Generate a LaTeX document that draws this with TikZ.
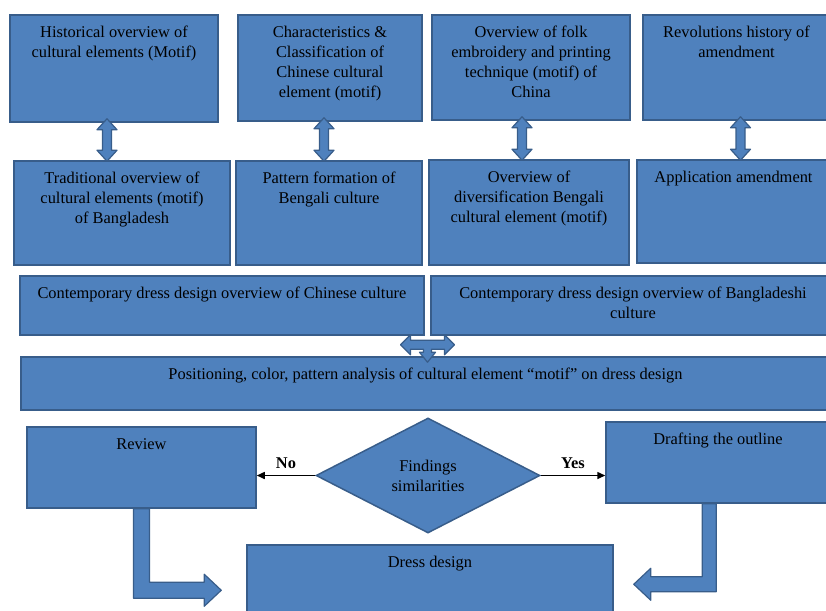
\documentclass[tikz,border=0pt]{standalone}
\usepackage{fontspec}
\setmainfont{Liberation Serif}
\usetikzlibrary{calc}
\usetikzlibrary{shapes.geometric}
\usetikzlibrary{arrows.meta}
\definecolor{boxblue}{HTML}{4F81BD}
\definecolor{boxline}{HTML}{385D8A}
\tikzset{
  flow box/.style = {draw=boxline, fill=boxblue, line width=1.5pt, inner sep=0pt}
}
\tikzset{
  block arrow/.style = {draw=boxline, fill=boxblue, line width=1.2pt, line join=round}
}
\tikzset{
  decision/.style = {diamond, draw=boxline, fill=boxblue, line width=1.5pt,
    minimum width=224pt, minimum height=115pt, inner sep=0pt, align=center}
}
\tikzset{
  branch label/.style = {font = \fontsize{16.4}{20}\selectfont\bfseries}
}
\tikzset{
  every node/.style = {font = \fontsize{16.4}{20}\selectfont}
}
\tikzset{
    >={Triangle[length=8pt,width=7pt]}
}
% box from (x1,y1) to (x2,y2), text at the top
\newcommand{\flowbox}[6]{
  \node[flow box, minimum width={#4-#2}, minimum height={#5-#3}] (#1)
    at ({(#2+#4)/2},{(#3+#5)/2})
    {\parbox[c][\dimexpr#5pt-#3pt\relax][t]{\dimexpr#4pt-#2pt\relax}{\centering\rule{0pt}{22pt}#6}};
}
% thick up-down arrow between two boxes
\newcommand{\dblarrow}[3]{
  \draw[block arrow] let \p1=($(#1.south)+(#3,0)$), \p2=(#2.north) in
    (\x1,\y1+4pt) -- (\x1+10pt,\y1-7pt) -- (\x1+4.5pt,\y1-7pt)
    -- (\x1+4.5pt,\y2+10pt) -- (\x1+10pt,\y2+10pt) -- (\x1,\y2-1pt)
    -- (\x1-10pt,\y2+10pt) -- (\x1-4.5pt,\y2+10pt) -- (\x1-4.5pt,\y1-7pt)
    -- (\x1-10pt,\y1-7pt) -- cycle;
}

\begin{document}
\begin{tikzpicture}[x=1pt, y=-1pt]
  \useasboundingbox (0,0) rectangle (826,610);

  \flowbox{hist}{10}{15}{218}{122}{Historical overview of\\cultural elements (Motif)}
  \flowbox{chars}{238}{15}{422}{121}{Characteristics \&\\Classification of\\Chinese cultural\\element (motif)}
  \flowbox{folk}{432}{15}{630}{120}{Overview of folk\\embroidery and printing\\technique (motif) of\\China}
  \flowbox{revol}{643}{15}{830}{120}{Revolutions history of\\amendment}

  \flowbox{trad}{14}{161}{230}{265}{Traditional overview of\\cultural elements (motif)\\of Bangladesh}
  \flowbox{pattern}{236}{161}{422}{265}{Pattern formation of\\Bengali culture}
  \flowbox{divers}{429}{160}{629}{265}{Overview of\\diversification Bengali\\cultural element (motif)}
  \flowbox{appl}{637}{160}{830}{263}{Application amendment}

  \dblarrow{hist}{trad}{-7}
  \dblarrow{chars}{pattern}{-6}
  \dblarrow{folk}{divers}{-9}
  \dblarrow{revol}{appl}{4}

  \flowbox{contchn}{20}{276}{424}{335}{Contemporary dress design overview of Chinese culture}
  \flowbox{contbd}{431}{276}{835}{335}{Contemporary dress design overview of Bangladeshi\\culture}
  \flowbox{posit}{21}{357}{830}{410}{Positioning, color, pattern analysis of cultural element “motif” on dress design}

  % left-right-down arrow under the two overview boxes
  \draw[block arrow] let \p1=($(contchn.south east)!.5!(contbd.south west)$), \p3=(posit.north) in
    (\x1-27pt,\y1-9pt) -- (\x1-17pt,\y1+1pt) -- (\x1-17pt,\y1-4.5pt)
    -- (\x1+17pt,\y1-4.5pt) -- (\x1+17pt,\y1+1pt) -- (\x1+27pt,\y1-9pt)
    -- (\x1+17pt,\y1-19pt) -- (\x1+17pt,\y1-13.5pt) -- (\x1+4pt,\y1-13.5pt)
    -- (\x1+4pt,\y3+4pt) -- (\x1+8pt,\y3+4pt) -- (\x1,\y3-6pt)
    -- (\x1-8pt,\y3+4pt) -- (\x1-4pt,\y3+4pt) -- (\x1-4pt,\y1-13.5pt)
    -- (\x1-17pt,\y1-13.5pt) -- (\x1-17pt,\y1-19pt) -- cycle;

  \flowbox{review}{27}{427}{256}{508}{Review}
  \flowbox{draft}{606}{422}{830}{503}{Drafting the outline}
  \flowbox{dress}{247}{545}{613}{620}{Dress design}

  \node[decision] (find) at (428,475.5) {Findings\\similarities};

  \draw[->, line width=1.5pt] (find.west) -- node[above=3pt, branch label] (no) {No}
    (find.west -| review.east);
  \draw[->, line width=1.5pt] (find.east) -- node[above=3pt, branch label] (yes) {Yes}
    (find.east -| draft.west);

  % bent arrows into the dress design box
  \draw[block arrow] let \p1=(review.south), \p2=(dress.north west) in
    (\x1-8pt,\y1) -- (\x1+8pt,\y1) -- (\x1+8pt,\y2-38pt)
    -- (\x2-42pt,\y2-38pt) -- (\x2-42pt,\y2-30pt) -- (\x2-25pt,\y2-46pt)
    -- (\x2-42pt,\y2-62pt) -- (\x2-42pt,\y2-54pt) -- (\x1-8pt,\y2-54pt) -- cycle;
  \draw[block arrow] let \p1=(draft.south west), \p2=(dress.north east) in
    (\x1+97pt,\y1) -- (\x1+111pt,\y1) -- (\x1+111pt,\y2-47.5pt)
    -- (\x2+37pt,\y2-47.5pt) -- (\x2+37pt,\y2-56pt) -- (\x2+20pt,\y2-40pt)
    -- (\x2+37pt,\y2-24pt) -- (\x2+37pt,\y2-32.5pt) -- (\x1+97pt,\y2-32.5pt) -- cycle;
\end{tikzpicture}
\end{document}
